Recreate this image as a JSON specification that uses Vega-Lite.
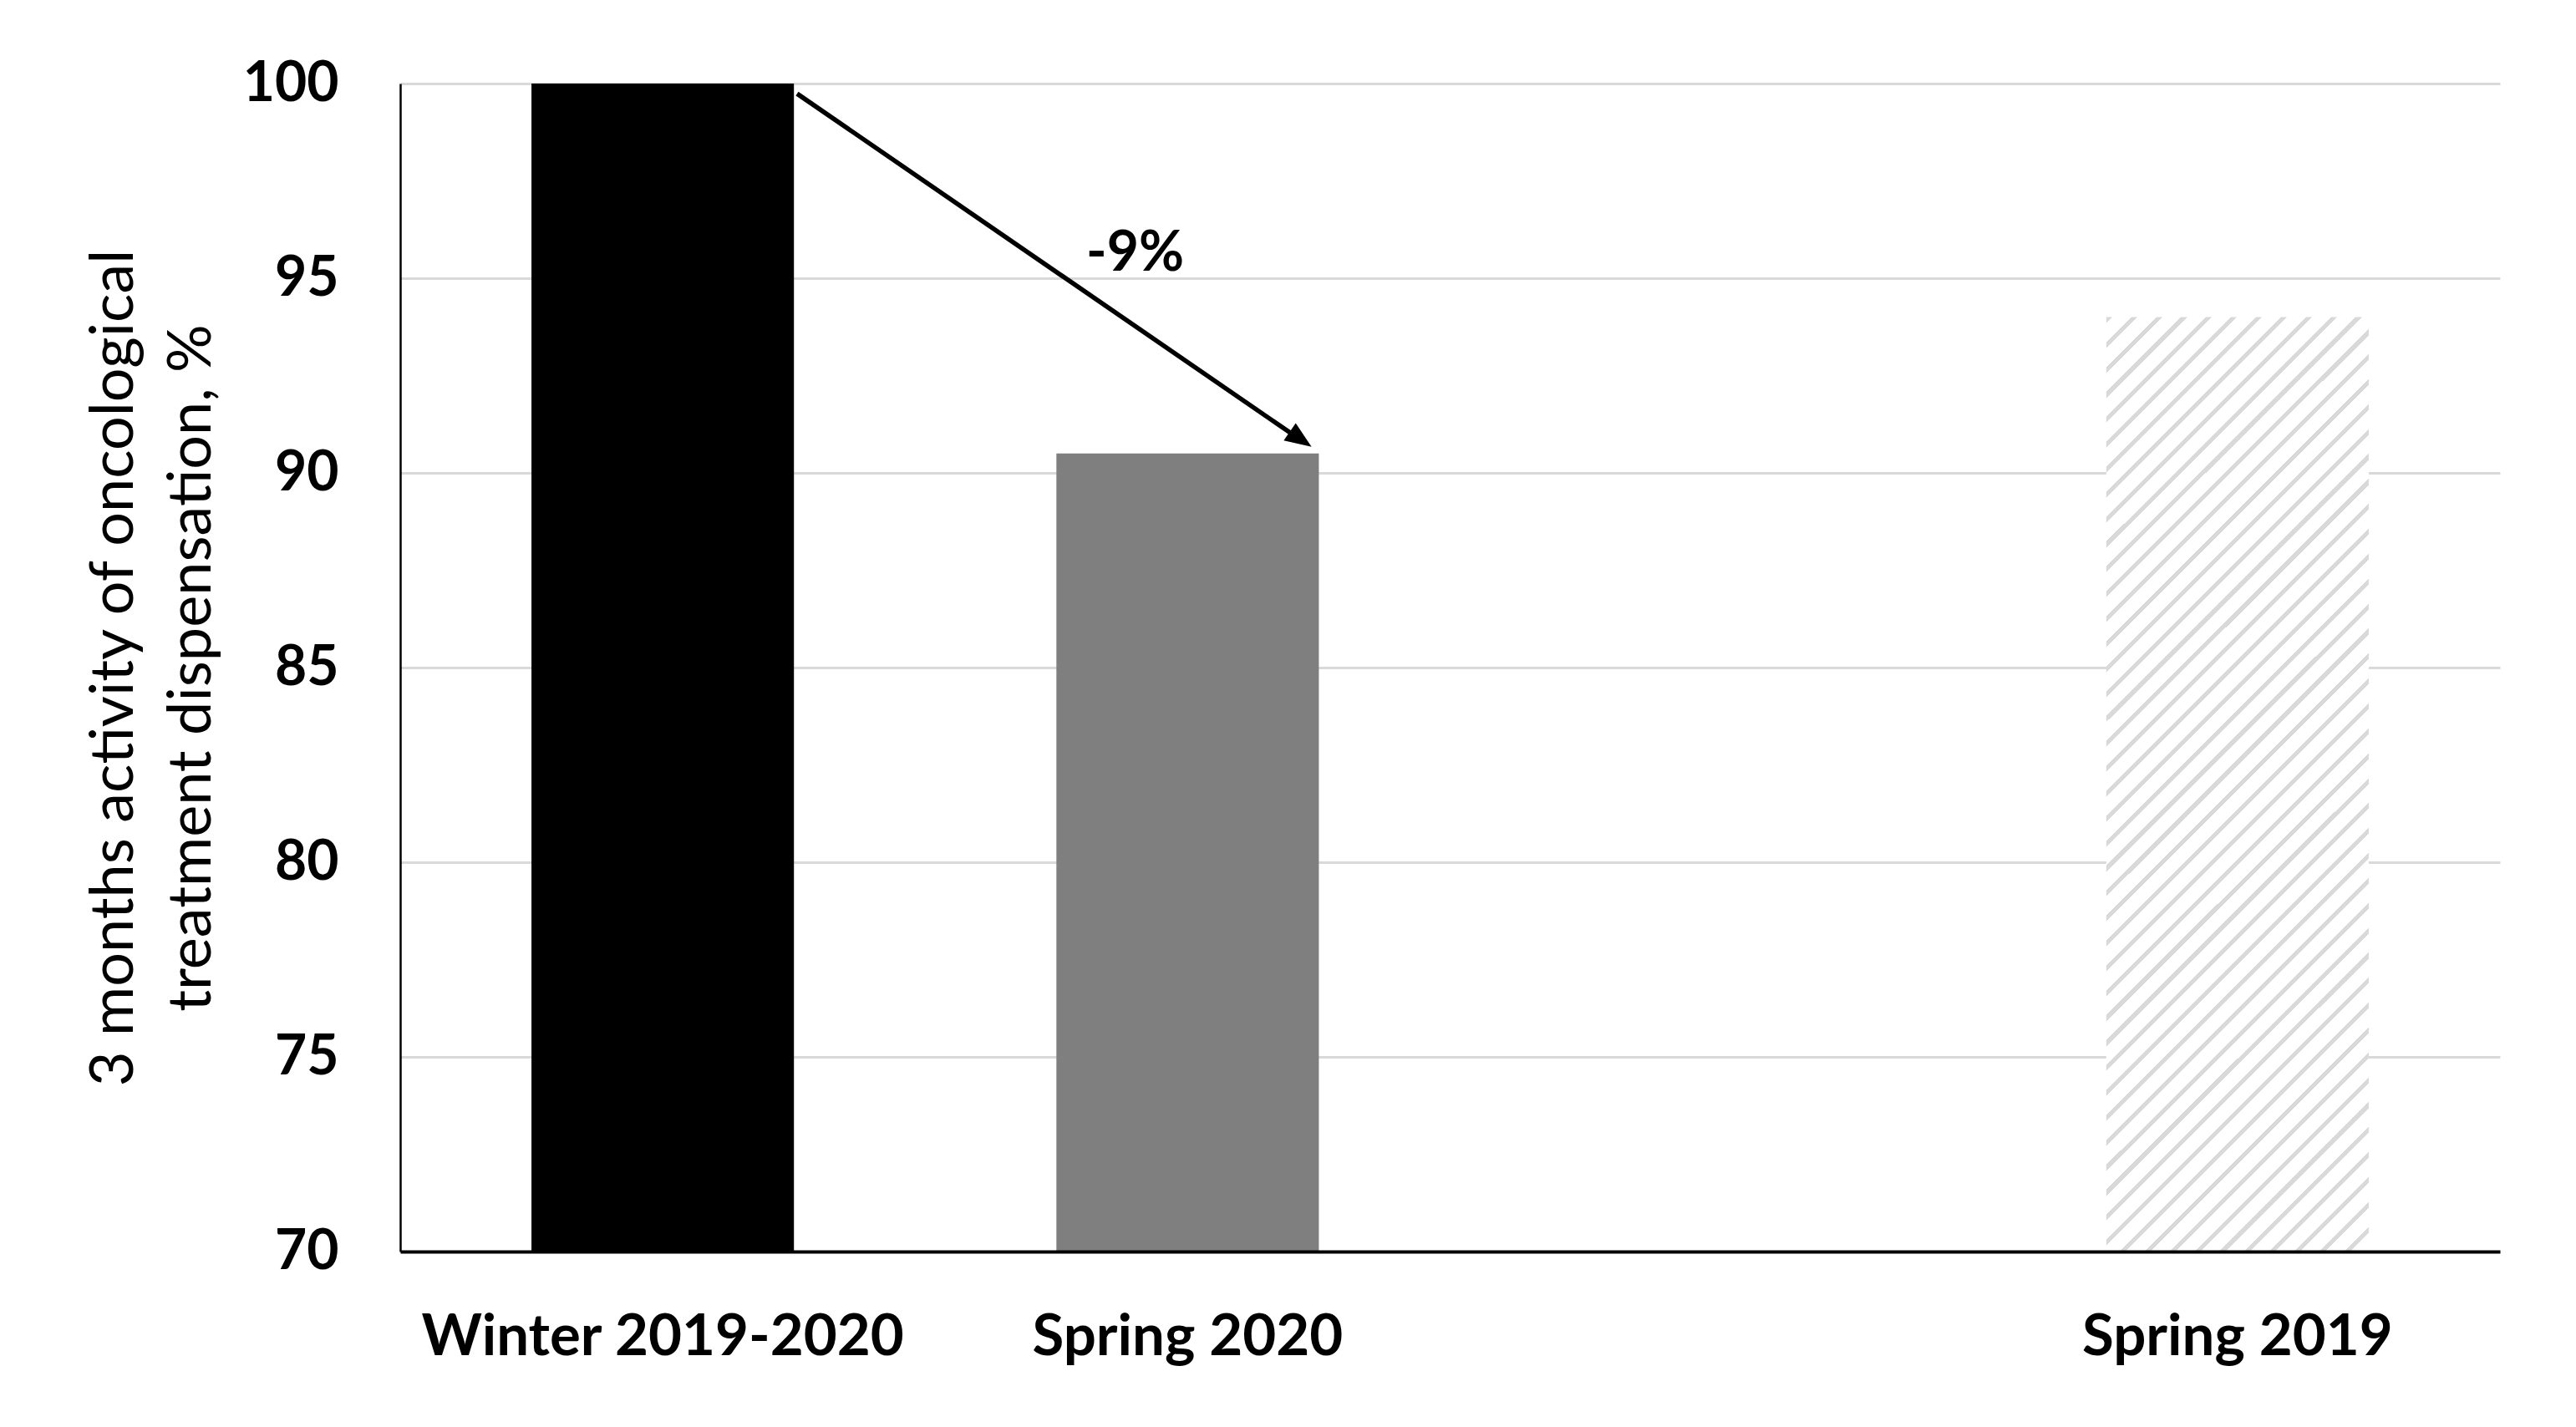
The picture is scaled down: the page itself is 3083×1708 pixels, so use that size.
{
  "$schema": "https://vega.github.io/schema/vega-lite/v6.json",
  "width": 2513,
  "height": 1398,
  "autosize": {"type": "none"},
  "padding": {"left": 479, "top": 100, "right": 91, "bottom": 210},
  "background": "#ffffff",
  "config": {
    "view": {"stroke": null},
    "font": "Lato"
  },
  "resolve": {"scale": {"x": "independent"}, "axis": {"x": "independent"}},
  "layer": [
    {
      "data": {"values": [
        {"period": "Winter 2019-2020", "value": 100},
        {"period": "Spring 2020", "value": 90.5}
      ]},
      "mark": {"type": "bar"},
      "encoding": {
        "x": {
          "field": "period", "type": "nominal",
          "scale": {"domain": ["Winter 2019-2020", "Spring 2020", " ", "Spring 2019"], "paddingInner": 0.5, "paddingOuter": 0.25},
          "axis": {
            "title": null, "labelAngle": 0, "labelFont": "Lato", "labelFontWeight": "bold", "labelFontSize": 69,
            "labelColor": "#000000", "labelPadding": 68, "labelLimit": 0, "ticks": false, "tickSize": 0,
            "domainColor": "#000000", "domainWidth": 4, "grid": false, "zindex": 1
          }
        },
        "y": {
          "field": "value", "type": "quantitative",
          "scale": {"domain": [70, 100], "nice": false, "zero": false},
          "axis": {
            "values": [70, 75, 80, 85, 90, 95, 100],
            "title": ["3 months activity of oncological", "treatment dispensation, %"],
            "titleFont": "Lato", "titleFontWeight": "normal", "titleFontSize": 72, "titleColor": "#000000",
            "titleLineHeight": 93, "titlePadding": 24,
            "labelFont": "Lato", "labelFontWeight": "bold", "labelFontSize": 66, "labelColor": "#000000",
            "labelPadding": 74, "ticks": false, "tickSize": 0,
            "domainColor": "#000000", "domainWidth": 2.5,
            "grid": true, "gridColor": "#d9d9d9", "gridWidth": 3
          }
        },
        "y2": {"datum": 70},
        "color": {
          "field": "period", "type": "nominal",
          "scale": {"domain": ["Winter 2019-2020", "Spring 2020"], "range": ["#000000", "#7f7f7f"]},
          "legend": null
        }
      }
    },
    {
      "data": {"values": [
        {"period": "Spring 2019", "value": 94}
      ]},
      "mark": {
        "type": "bar",
        "fill": {
          "gradient": "linear", "x1": 0, "y1": 0, "x2": 0.3333, "y2": 1.1872,
          "stops": [
            {"offset": 0, "color": "#d9d9d9"}, {"offset": 0.005, "color": "#d9d9d9"}, {"offset": 0.005, "color": "#ffffff"}, {"offset": 0.0208, "color": "#ffffff"},
            {"offset": 0.0208, "color": "#d9d9d9"}, {"offset": 0.0258, "color": "#d9d9d9"}, {"offset": 0.0258, "color": "#ffffff"}, {"offset": 0.0417, "color": "#ffffff"},
            {"offset": 0.0417, "color": "#d9d9d9"}, {"offset": 0.0467, "color": "#d9d9d9"}, {"offset": 0.0467, "color": "#ffffff"}, {"offset": 0.0625, "color": "#ffffff"},
            {"offset": 0.0625, "color": "#d9d9d9"}, {"offset": 0.0675, "color": "#d9d9d9"}, {"offset": 0.0675, "color": "#ffffff"}, {"offset": 0.0833, "color": "#ffffff"},
            {"offset": 0.0833, "color": "#d9d9d9"}, {"offset": 0.0883, "color": "#d9d9d9"}, {"offset": 0.0883, "color": "#ffffff"}, {"offset": 0.1042, "color": "#ffffff"},
            {"offset": 0.1042, "color": "#d9d9d9"}, {"offset": 0.1092, "color": "#d9d9d9"}, {"offset": 0.1092, "color": "#ffffff"}, {"offset": 0.125, "color": "#ffffff"},
            {"offset": 0.125, "color": "#d9d9d9"}, {"offset": 0.13, "color": "#d9d9d9"}, {"offset": 0.13, "color": "#ffffff"}, {"offset": 0.1458, "color": "#ffffff"},
            {"offset": 0.1458, "color": "#d9d9d9"}, {"offset": 0.1508, "color": "#d9d9d9"}, {"offset": 0.1508, "color": "#ffffff"}, {"offset": 0.1667, "color": "#ffffff"},
            {"offset": 0.1667, "color": "#d9d9d9"}, {"offset": 0.1717, "color": "#d9d9d9"}, {"offset": 0.1717, "color": "#ffffff"}, {"offset": 0.1875, "color": "#ffffff"},
            {"offset": 0.1875, "color": "#d9d9d9"}, {"offset": 0.1925, "color": "#d9d9d9"}, {"offset": 0.1925, "color": "#ffffff"}, {"offset": 0.2083, "color": "#ffffff"},
            {"offset": 0.2083, "color": "#d9d9d9"}, {"offset": 0.2133, "color": "#d9d9d9"}, {"offset": 0.2133, "color": "#ffffff"}, {"offset": 0.2292, "color": "#ffffff"},
            {"offset": 0.2292, "color": "#d9d9d9"}, {"offset": 0.2342, "color": "#d9d9d9"}, {"offset": 0.2342, "color": "#ffffff"}, {"offset": 0.25, "color": "#ffffff"},
            {"offset": 0.25, "color": "#d9d9d9"}, {"offset": 0.255, "color": "#d9d9d9"}, {"offset": 0.255, "color": "#ffffff"}, {"offset": 0.2708, "color": "#ffffff"},
            {"offset": 0.2708, "color": "#d9d9d9"}, {"offset": 0.2758, "color": "#d9d9d9"}, {"offset": 0.2758, "color": "#ffffff"}, {"offset": 0.2917, "color": "#ffffff"},
            {"offset": 0.2917, "color": "#d9d9d9"}, {"offset": 0.2967, "color": "#d9d9d9"}, {"offset": 0.2967, "color": "#ffffff"}, {"offset": 0.3125, "color": "#ffffff"},
            {"offset": 0.3125, "color": "#d9d9d9"}, {"offset": 0.3175, "color": "#d9d9d9"}, {"offset": 0.3175, "color": "#ffffff"}, {"offset": 0.3333, "color": "#ffffff"},
            {"offset": 0.3333, "color": "#d9d9d9"}, {"offset": 0.3383, "color": "#d9d9d9"}, {"offset": 0.3383, "color": "#ffffff"}, {"offset": 0.3542, "color": "#ffffff"},
            {"offset": 0.3542, "color": "#d9d9d9"}, {"offset": 0.3592, "color": "#d9d9d9"}, {"offset": 0.3592, "color": "#ffffff"}, {"offset": 0.375, "color": "#ffffff"},
            {"offset": 0.375, "color": "#d9d9d9"}, {"offset": 0.38, "color": "#d9d9d9"}, {"offset": 0.38, "color": "#ffffff"}, {"offset": 0.3958, "color": "#ffffff"},
            {"offset": 0.3958, "color": "#d9d9d9"}, {"offset": 0.4008, "color": "#d9d9d9"}, {"offset": 0.4008, "color": "#ffffff"}, {"offset": 0.4167, "color": "#ffffff"},
            {"offset": 0.4167, "color": "#d9d9d9"}, {"offset": 0.4217, "color": "#d9d9d9"}, {"offset": 0.4217, "color": "#ffffff"}, {"offset": 0.4375, "color": "#ffffff"},
            {"offset": 0.4375, "color": "#d9d9d9"}, {"offset": 0.4425, "color": "#d9d9d9"}, {"offset": 0.4425, "color": "#ffffff"}, {"offset": 0.4583, "color": "#ffffff"},
            {"offset": 0.4583, "color": "#d9d9d9"}, {"offset": 0.4633, "color": "#d9d9d9"}, {"offset": 0.4633, "color": "#ffffff"}, {"offset": 0.4792, "color": "#ffffff"},
            {"offset": 0.4792, "color": "#d9d9d9"}, {"offset": 0.4842, "color": "#d9d9d9"}, {"offset": 0.4842, "color": "#ffffff"}, {"offset": 0.5, "color": "#ffffff"},
            {"offset": 0.5, "color": "#d9d9d9"}, {"offset": 0.505, "color": "#d9d9d9"}, {"offset": 0.505, "color": "#ffffff"}, {"offset": 0.5208, "color": "#ffffff"},
            {"offset": 0.5208, "color": "#d9d9d9"}, {"offset": 0.5258, "color": "#d9d9d9"}, {"offset": 0.5258, "color": "#ffffff"}, {"offset": 0.5417, "color": "#ffffff"},
            {"offset": 0.5417, "color": "#d9d9d9"}, {"offset": 0.5467, "color": "#d9d9d9"}, {"offset": 0.5467, "color": "#ffffff"}, {"offset": 0.5625, "color": "#ffffff"},
            {"offset": 0.5625, "color": "#d9d9d9"}, {"offset": 0.5675, "color": "#d9d9d9"}, {"offset": 0.5675, "color": "#ffffff"}, {"offset": 0.5833, "color": "#ffffff"},
            {"offset": 0.5833, "color": "#d9d9d9"}, {"offset": 0.5883, "color": "#d9d9d9"}, {"offset": 0.5883, "color": "#ffffff"}, {"offset": 0.6042, "color": "#ffffff"},
            {"offset": 0.6042, "color": "#d9d9d9"}, {"offset": 0.6092, "color": "#d9d9d9"}, {"offset": 0.6092, "color": "#ffffff"}, {"offset": 0.625, "color": "#ffffff"},
            {"offset": 0.625, "color": "#d9d9d9"}, {"offset": 0.63, "color": "#d9d9d9"}, {"offset": 0.63, "color": "#ffffff"}, {"offset": 0.6458, "color": "#ffffff"},
            {"offset": 0.6458, "color": "#d9d9d9"}, {"offset": 0.6508, "color": "#d9d9d9"}, {"offset": 0.6508, "color": "#ffffff"}, {"offset": 0.6667, "color": "#ffffff"},
            {"offset": 0.6667, "color": "#d9d9d9"}, {"offset": 0.6717, "color": "#d9d9d9"}, {"offset": 0.6717, "color": "#ffffff"}, {"offset": 0.6875, "color": "#ffffff"},
            {"offset": 0.6875, "color": "#d9d9d9"}, {"offset": 0.6925, "color": "#d9d9d9"}, {"offset": 0.6925, "color": "#ffffff"}, {"offset": 0.7083, "color": "#ffffff"},
            {"offset": 0.7083, "color": "#d9d9d9"}, {"offset": 0.7133, "color": "#d9d9d9"}, {"offset": 0.7133, "color": "#ffffff"}, {"offset": 0.7292, "color": "#ffffff"},
            {"offset": 0.7292, "color": "#d9d9d9"}, {"offset": 0.7342, "color": "#d9d9d9"}, {"offset": 0.7342, "color": "#ffffff"}, {"offset": 0.75, "color": "#ffffff"},
            {"offset": 0.75, "color": "#d9d9d9"}, {"offset": 0.755, "color": "#d9d9d9"}, {"offset": 0.755, "color": "#ffffff"}, {"offset": 0.7708, "color": "#ffffff"},
            {"offset": 0.7708, "color": "#d9d9d9"}, {"offset": 0.7758, "color": "#d9d9d9"}, {"offset": 0.7758, "color": "#ffffff"}, {"offset": 0.7917, "color": "#ffffff"},
            {"offset": 0.7917, "color": "#d9d9d9"}, {"offset": 0.7967, "color": "#d9d9d9"}, {"offset": 0.7967, "color": "#ffffff"}, {"offset": 0.8125, "color": "#ffffff"},
            {"offset": 0.8125, "color": "#d9d9d9"}, {"offset": 0.8175, "color": "#d9d9d9"}, {"offset": 0.8175, "color": "#ffffff"}, {"offset": 0.8333, "color": "#ffffff"},
            {"offset": 0.8333, "color": "#d9d9d9"}, {"offset": 0.8383, "color": "#d9d9d9"}, {"offset": 0.8383, "color": "#ffffff"}, {"offset": 0.8542, "color": "#ffffff"},
            {"offset": 0.8542, "color": "#d9d9d9"}, {"offset": 0.8592, "color": "#d9d9d9"}, {"offset": 0.8592, "color": "#ffffff"}, {"offset": 0.875, "color": "#ffffff"},
            {"offset": 0.875, "color": "#d9d9d9"}, {"offset": 0.88, "color": "#d9d9d9"}, {"offset": 0.88, "color": "#ffffff"}, {"offset": 0.8958, "color": "#ffffff"},
            {"offset": 0.8958, "color": "#d9d9d9"}, {"offset": 0.9008, "color": "#d9d9d9"}, {"offset": 0.9008, "color": "#ffffff"}, {"offset": 0.9167, "color": "#ffffff"},
            {"offset": 0.9167, "color": "#d9d9d9"}, {"offset": 0.9217, "color": "#d9d9d9"}, {"offset": 0.9217, "color": "#ffffff"}, {"offset": 0.9375, "color": "#ffffff"},
            {"offset": 0.9375, "color": "#d9d9d9"}, {"offset": 0.9425, "color": "#d9d9d9"}, {"offset": 0.9425, "color": "#ffffff"}, {"offset": 0.9583, "color": "#ffffff"},
            {"offset": 0.9583, "color": "#d9d9d9"}, {"offset": 0.9633, "color": "#d9d9d9"}, {"offset": 0.9633, "color": "#ffffff"}, {"offset": 0.9792, "color": "#ffffff"},
            {"offset": 0.9792, "color": "#d9d9d9"}, {"offset": 0.9842, "color": "#d9d9d9"}, {"offset": 0.9842, "color": "#ffffff"}, {"offset": 1, "color": "#ffffff"}
          ]
        }
      },
      "encoding": {
        "x": {
          "field": "period", "type": "nominal",
          "scale": {"domain": ["Winter 2019-2020", "Spring 2020", " ", "Spring 2019"], "paddingInner": 0.5, "paddingOuter": 0.25},
          "axis": null
        },
        "y": {"field": "value", "type": "quantitative", "scale": {"domain": [70, 100], "nice": false, "zero": false}},
        "y2": {"datum": 70}
      }
    },
    {
      "data": {"values": [
        {"xs": 0.756, "ys": 99.74, "xe": 1.702, "ye": 90.97}
      ]},
      "mark": {"type": "rule", "color": "#000000", "strokeWidth": 5.5},
      "encoding": {
        "x": {"field": "xs", "type": "quantitative", "scale": {"domain": [0, 4], "nice": false, "zero": false}, "axis": null},
        "x2": {"field": "xe"},
        "y": {"field": "ys", "type": "quantitative", "scale": {"domain": [70, 100], "nice": false, "zero": false}},
        "y2": {"field": "ye"}
      }
    },
    {
      "data": {"values": [
        {"xt": 1.736, "yt": 90.67}
      ]},
      "mark": {"type": "point", "shape": "M0,0 L-1,-0.4 L-1,0.4 Z", "filled": true, "color": "#000000", "opacity": 1, "size": 4000, "angle": 34.5, "strokeWidth": 0},
      "encoding": {
        "x": {"field": "xt", "type": "quantitative", "scale": {"domain": [0, 4], "nice": false, "zero": false}, "axis": null},
        "y": {"field": "yt", "type": "quantitative", "scale": {"domain": [70, 100], "nice": false, "zero": false}}
      }
    },
    {
      "data": {"values": [
        {"xl": 1.4, "yl": 95.62, "label": "-9%"}
      ]},
      "mark": {"type": "text", "font": "Lato", "fontWeight": "bold", "fontSize": 66, "color": "#000000", "align": "center", "baseline": "middle"},
      "encoding": {
        "x": {"field": "xl", "type": "quantitative", "scale": {"domain": [0, 4], "nice": false, "zero": false}, "axis": null},
        "y": {"field": "yl", "type": "quantitative", "scale": {"domain": [70, 100], "nice": false, "zero": false}},
        "text": {"field": "label"}
      }
    }
  ]
}
